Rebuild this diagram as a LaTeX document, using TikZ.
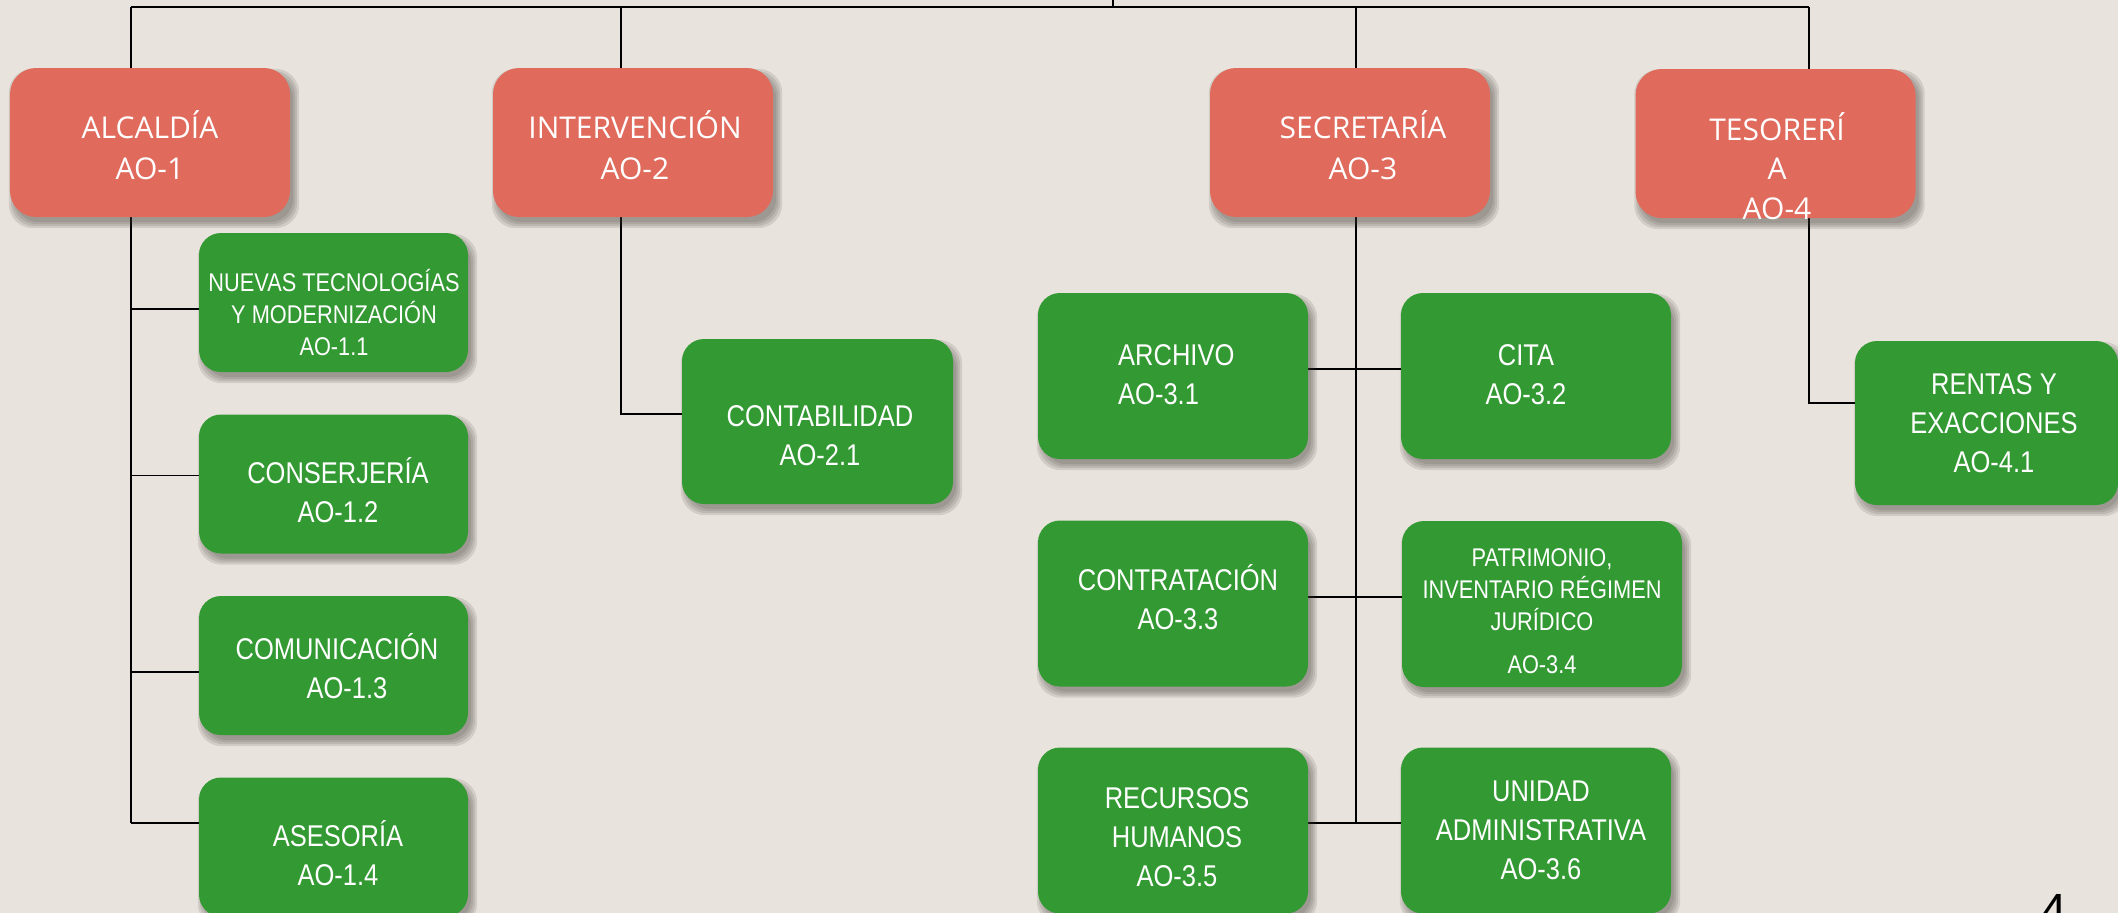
\documentclass[tikz,border=0pt]{standalone}
\usepackage{fontspec}
\newfontfamily\redfont{Open Sans}
\newfontfamily\grfont[FakeStretch=0.85]{Liberation Sans}
\newfontfamily\numfont{Liberation Sans}
\definecolor{bgc}{HTML}{E8E4DD}
\definecolor{redc}{HTML}{E06B5D}
\definecolor{grc}{HTML}{339933}
\definecolor{shc}{HTML}{3A3530}
\pgfdeclarelayer{bglayer}
\pgfdeclarelayer{linelayer}
\pgfdeclarelayer{shadowlayer}
\pgfsetlayers{bglayer,linelayer,shadowlayer,main}
% struts: first-line top and last-line bottom so that node centre = visual centre of capitals
\newcommand\topstr{\rule{0pt}{32bp}}
\newcommand\botstr{\rule[-10.5bp]{0pt}{10.5bp}}
\newcommand\topsm{\rule{0pt}{28bp}}
\newcommand\botsm{\rule[-9.7bp]{0pt}{9.7bp}}
\tikzset{
  redbox/.style={draw=none, fill=redc, rounded corners=26bp, minimum width=280bp, minimum height=149bp, inner sep=0pt},
  grbox/.style={draw=none, fill=grc, rounded corners=22bp, inner sep=0pt},
  grsmall/.style={grbox, minimum width=269bp, minimum height=139bp},
  grbig/.style={grbox, minimum width=270bp, minimum height=166bp},
  redtxt/.style={text=white, align=center, inner sep=0pt, font=\redfont\fontsize{30bp}{40.5bp}\selectfont},
  grtxt/.style={text=white, align=center, inner sep=0pt, font=\grfont\fontsize{30bp}{39bp}\selectfont},
  smtxt/.style={text=white, align=center, inner sep=0pt, font=\grfont\fontsize{25.6bp}{32bp}\selectfont},
  conn/.style={draw=black, line width=1.5bp},
  shadowfill/.style={fill=shc, opacity=0.13, rounded corners=24bp},
}
\begin{document}
\begin{tikzpicture}[x=1bp,y=-1bp]
\useasboundingbox (0,0) rectangle (2118,913);
\begin{pgfonlayer}{bglayer}
\fill[bgc] (0,0) rectangle (2118,913);
\end{pgfonlayer}

% ---------- boxes ----------
\node[redbox] (alc) at (150,142.5) {};
\node[redbox] (int) at (633,142.5) {};
\node[redbox] (sec) at (1350,142.5) {};
\node[redbox] (tes) at (1775.5,143.5) {};

\node[grsmall] (nt) at (333.5,302.5) {};
\node[grsmall] (cj) at (333.5,484) {};
\node[grsmall] (cm) at (333.5,665.5) {};
\node[grsmall] (as) at (333.5,847) {};

\node[grbig, minimum width=271bp, minimum height=165bp] (ctb) at (817.5,421.5) {};

\node[grbig] (arc) at (1173,376) {};
\node[grbig] (cit) at (1536,376) {};
\node[grbig] (ctr) at (1173,603.5) {};
\node[grbig, minimum width=280bp] (pat) at (1542,604) {};
\node[grbig] (rec) at (1173,830.5) {};
\node[grbig] (uni) at (1536,830.5) {};
\node[grbig, minimum width=263bp, minimum height=164bp] (ren) at (1986.5,423) {};

% ---------- soft shadows (stacked translucent layers) ----------
\begin{pgfonlayer}{shadowlayer}
\foreach \n in {alc,int,sec,tes,nt,cj,cm,as,ctb,arc,cit,ctr,pat,rec,uni,ren}{
  \foreach \e in {5,3,1,-1}{
    \fill[shadowfill] ([shift={(4-\e,6-\e)}]\n.north west) rectangle ([shift={(4+\e,6+\e)}]\n.south east);
  }
}
\end{pgfonlayer}

% ---------- texts ----------
\node[redtxt] (alct) at (150,148.3) {\topstr ALCALDÍA\\AO-1\botstr};
\node[redtxt] (intt) at (635,148.3) {\topstr INTERVENCIÓN\\AO-2\botstr};
\node[redtxt] (sect) at (1363,148.3) {\topstr SECRETARÍA\\AO-3\botstr};
\node[redtxt, font=\redfont\fontsize{30bp}{39.5bp}\selectfont] (test) at (1777,168.8) {\topstr TESORERÍ\\A\\AO-4\botstr};

\node[smtxt] (ntt) at (334,314.8) {\topsm NUEVAS TECNOLOGÍAS\\Y MODERNIZACIÓN\\AO-1.1\botsm};
\node[grtxt] (cjt) at (338,491.8) {\topstr CONSERJERÍA\\AO-1.2\botstr};
\node[grtxt] (cmt) at (337,668.3) {\topstr COMUNICACIÓN\\\hspace*{20bp}AO-1.3\botstr};
\node[grtxt] (ast) at (338,855.3) {\topstr ASESORÍA\\AO-1.4\botstr};
\node[grtxt] (ctbt) at (820,434.8) {\topstr CONTABILIDAD\\AO-2.1\botstr};
\node[grtxt, align=left, anchor=west] (arct) at (1118,374.3) {\topstr ARCHIVO\\AO-3.1\botstr};
\node[grtxt] (citt) at (1526,374.3) {\topstr CITA\\AO-3.2\botstr};
\node[grtxt] (ctrt) at (1178,599.3) {\topstr CONTRATACIÓN\\AO-3.3\botstr};
\node[smtxt] (patt) at (1542,610.8) {\topsm PATRIMONIO,\\INVENTARIO RÉGIMEN\\JURÍDICO\\[11bp]AO-3.4\botsm};
\node[grtxt] (rect) at (1177,836.3) {\topstr RECURSOS\\HUMANOS\\AO-3.5\botstr};
\node[grtxt] (unit) at (1541,829.8) {\topstr UNIDAD\\ADMINISTRATIVA\\AO-3.6\botstr};
\node[grtxt] (rent) at (1994,422.8) {\topstr RENTAS Y\\EXACCIONES\\AO-4.1\botstr};

\node[font=\numfont\fontsize{48bp}{48bp}\selectfont, anchor=base west, inner sep=0pt] (pg) at (2040,927) {4};

% ---------- connectors ----------
\coordinate (stub) at (1113,0);
\coordinate (stubB) at (1113,7.3);
\coordinate (a0) at (131,7.3);
\coordinate (a1) at (131,309);
\coordinate (a2) at (131,475.5);
\coordinate (a3) at (131,672);
\coordinate (a4) at (131,823);
\coordinate (b0) at (621,7.3);
\coordinate (b1) at (621,414);
\coordinate (c0) at (1356,7.3);
\coordinate (c1) at (1356,823);
\coordinate (c2) at (1356,369);
\coordinate (c3) at (1356,597);
\coordinate (d0) at (1809,7.3);
\coordinate (d1) at (1809,403);

\begin{pgfonlayer}{linelayer}
\draw[conn, line width=2bp] (a0) -- (d0);
\draw[conn] (stub) -- (stubB);
\draw[conn] (a0) -- (a4);
\draw[conn] (a1) -- (a1 -| nt.west);
\draw[conn] (a2) -- (a2 -| cj.west);
\draw[conn] (a3) -- (a3 -| cm.west);
\draw[conn] (a4) -- (a4 -| as.west);
\draw[conn] (b0) -- (b1) -- (b1 -| ctb.west);
\draw[conn] (c0) -- (c1);
\draw[conn] (arc.east |- c2) -- (cit.west |- c2);
\draw[conn] (ctr.east |- c3) -- (pat.west |- c3);
\draw[conn] (rec.east |- c1) -- (uni.west |- c1);
\draw[conn] (d0) -- (d1) -- (d1 -| ren.west);
\end{pgfonlayer}
\end{tikzpicture}
\end{document}
